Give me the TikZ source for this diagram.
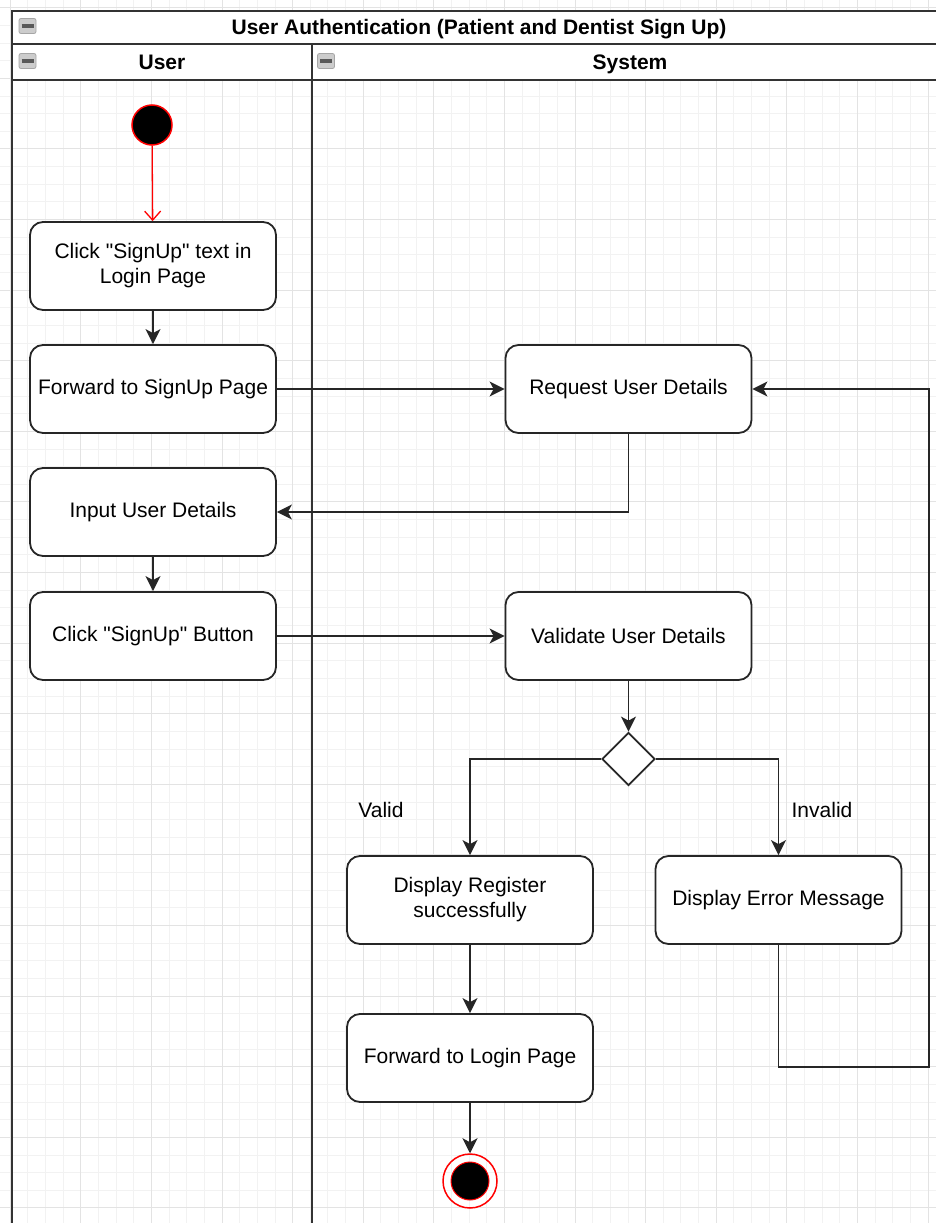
\documentclass[tikz,border=0pt]{standalone}
\usepackage{fontspec}
\setmainfont{Liberation Sans}[Ligatures=TeXOff]
\usetikzlibrary{shapes.geometric,arrows.meta}

\begin{document}
\begin{tikzpicture}[
        x=1pt, y=-1pt,
        txt/.style={font=\fontsize{21}{25}\selectfont},
        box/.style={rectangle, draw=black!85, line width=1.8pt, rounded corners=13pt, fill=white, minimum width=246pt, minimum height=88pt, align=center, txt},
        decision/.style={diamond, draw=black!85, line width=1.8pt, fill=white, minimum width=53pt, minimum height=53pt, inner sep=0pt},
        initial/.style={circle, fill=black, draw=red, line width=1.5pt, minimum size=40pt, inner sep=0pt},
        finalring/.style={circle, draw=red, line width=1.5pt, minimum size=54pt, inner sep=0pt},
        finaldot/.style={circle, fill=black, draw=red, line width=1pt, minimum size=38pt, inner sep=0pt},
        lanetitle/.style={font=\fontsize{21}{25}\selectfont\bfseries, text height=15pt, text depth=4pt, inner sep=0pt},
        fold/.style={rectangle, rounded corners=2pt, fill=gray!40, draw=gray!70, line width=0.8pt, minimum width=17pt, minimum height=15pt, inner sep=0pt, text=black!65},
        lbl/.style={txt},
        pool/.style={line width=2pt, draw=black!80},
        minorgrid/.style={draw=gray!10, line width=0.9pt},
        majorgrid/.style={draw=gray!22, line width=0.9pt},
        flow/.style={-{Stealth[length=15pt, width=15pt, inset=4pt]}, line width=1.8pt, draw=black!85},
        startflow/.style={-{Straight Barb[length=9pt, width=16pt]}, line width=1.3pt, draw=red}
    ]
    \useasboundingbox (0,0) rectangle (936,1223);

    % Background grid
    \foreach \i in {0,...,52} \draw[minorgrid] ({10.2+17.65*\i},0) -- ({10.2+17.65*\i},1223);
    \foreach \j in {0,...,69} \draw[minorgrid] (0,{7.7+17.65*\j}) -- (936,{7.7+17.65*\j});
    \foreach \i in {0,...,13} \draw[majorgrid] ({10.2+70.6*\i},0) -- ({10.2+70.6*\i},1223);
    \foreach \j in {0,...,17} \draw[majorgrid] (0,{7.7+70.6*\j}) -- (936,{7.7+70.6*\j});

    % Pool and lanes
    \fill[white] (12,11) rectangle (936,80);
    \draw[pool] (936,11) -- (12,11) -- (12,1223);
    \draw[pool] (12,44) -- (936,44);
    \draw[pool] (12,80) -- (936,80);
    \draw[pool] (312,44) -- (312,1223);

    \node[lanetitle] (pooltitle) at (479,29) {User Authentication (Patient and Dentist Sign Up)};
    \node[lanetitle] (userlane) at (162,64) {User};
    \node[lanetitle] (systemlane) at (630,64) {System};
    \node[fold] (foldpool) at (27.5,26) {\rule{12pt}{3.5pt}};
    \node[fold] (folduser) at (27.5,61) {\rule{12pt}{3.5pt}};
    \node[fold] (foldsystem) at (326,61) {\rule{12pt}{3.5pt}};

    % User lane
    \node[initial] (start) at (152,125) {};
    \node[box] (clicktext) at (153,266) {Click "SignUp" text in\\Login Page};
    \node[box] (fwdsignup) at (153,389) {Forward to SignUp Page};
    \node[box] (input) at (153,512) {Input User Details};
    \node[box] (clickbtn) at (153,636) {Click "SignUp" Button};

    % System lane
    \node[box] (request) at (628.5,389) {Request User Details};
    \node[box] (validate) at (628.5,636) {Validate User Details};
    \node[decision] (check) at (628.5,759) {};
    \node[box] (success) at (470,900) {Display Register\\successfully};
    \node[box] (error) at (778.5,900) {Display Error Message};
    \node[box] (fwdlogin) at (470,1058) {Forward to Login Page};
    \node[finalring] (stop) at (470,1181) {};
    \node[finaldot] (stopdot) at (470,1181) {};

    \node[lbl] (valid) at (381,810) {Valid};
    \node[lbl] (invalid) at (822,810) {Invalid};
    \coordinate (back) at (929,1067);

    % Connections
    \draw[startflow] (start) -- (clicktext);
    \draw[flow] (clicktext) -- (fwdsignup);
    \draw[flow] (fwdsignup) -- (request);
    \draw[flow] (request.south) |- (input.east);
    \draw[flow] (input) -- (clickbtn);
    \draw[flow] (clickbtn) -- (validate);
    \draw[flow] (validate) -- (check);
    \draw[flow] (check.west) -| (success.north);
    \draw[flow] (check.east) -| (error.north);
    \draw[flow] (success) -- (fwdlogin);
    \draw[flow] (fwdlogin) -- (stop);
    \draw[flow] (error.south) |- (back) |- (request.east);

\end{tikzpicture}
\end{document}
